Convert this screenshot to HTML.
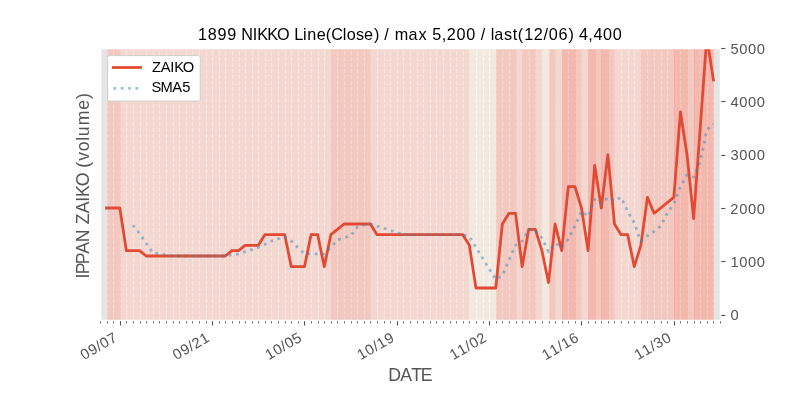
<!DOCTYPE html>
<html lang="en"><head><meta charset="utf-8"><title>1899 NIKKO Line(Close)</title>
<style>html,body{margin:0;padding:0;background:#fff;}body{width:800px;height:400px;overflow:hidden;}svg{display:block;will-change:transform;}text{font-family:"Liberation Sans",sans-serif;}</style></head><body>
<svg width="800" height="400" viewBox="0 0 800 400">
<rect x="0" y="0" width="800" height="400" fill="#ffffff"/>
<defs><clipPath id="ax"><rect x="100" y="48" width="620" height="272"/></clipPath></defs>
<rect x="100" y="48" width="620" height="272" fill="#e5e5e5"/>
<g clip-path="url(#ax)">
<g stroke="#ffffff" stroke-width="1.11" stroke-dasharray="4.11 1.78" fill="none">
<line x1="100.5" y1="320.5" x2="100.5" y2="40"/>
<line x1="107.5" y1="320.5" x2="107.5" y2="40"/>
<line x1="113.5" y1="320.5" x2="113.5" y2="40"/>
<line x1="120.5" y1="320.5" x2="120.5" y2="40"/>
<line x1="126.5" y1="320.5" x2="126.5" y2="40"/>
<line x1="133.5" y1="320.5" x2="133.5" y2="40"/>
<line x1="140.5" y1="320.5" x2="140.5" y2="40"/>
<line x1="146.5" y1="320.5" x2="146.5" y2="40"/>
<line x1="153.5" y1="320.5" x2="153.5" y2="40"/>
<line x1="159.5" y1="320.5" x2="159.5" y2="40"/>
<line x1="166.5" y1="320.5" x2="166.5" y2="40"/>
<line x1="173.5" y1="320.5" x2="173.5" y2="40"/>
<line x1="179.5" y1="320.5" x2="179.5" y2="40"/>
<line x1="186.5" y1="320.5" x2="186.5" y2="40"/>
<line x1="192.5" y1="320.5" x2="192.5" y2="40"/>
<line x1="199.5" y1="320.5" x2="199.5" y2="40"/>
<line x1="206.5" y1="320.5" x2="206.5" y2="40"/>
<line x1="212.5" y1="320.5" x2="212.5" y2="40"/>
<line x1="219.5" y1="320.5" x2="219.5" y2="40"/>
<line x1="225.5" y1="320.5" x2="225.5" y2="40"/>
<line x1="232.5" y1="320.5" x2="232.5" y2="40"/>
<line x1="239.5" y1="320.5" x2="239.5" y2="40"/>
<line x1="245.5" y1="320.5" x2="245.5" y2="40"/>
<line x1="252.5" y1="320.5" x2="252.5" y2="40"/>
<line x1="258.5" y1="320.5" x2="258.5" y2="40"/>
<line x1="265.5" y1="320.5" x2="265.5" y2="40"/>
<line x1="271.5" y1="320.5" x2="271.5" y2="40"/>
<line x1="278.5" y1="320.5" x2="278.5" y2="40"/>
<line x1="285.5" y1="320.5" x2="285.5" y2="40"/>
<line x1="291.5" y1="320.5" x2="291.5" y2="40"/>
<line x1="298.5" y1="320.5" x2="298.5" y2="40"/>
<line x1="304.5" y1="320.5" x2="304.5" y2="40"/>
<line x1="311.5" y1="320.5" x2="311.5" y2="40"/>
<line x1="318.5" y1="320.5" x2="318.5" y2="40"/>
<line x1="324.5" y1="320.5" x2="324.5" y2="40"/>
<line x1="331.5" y1="320.5" x2="331.5" y2="40"/>
<line x1="337.5" y1="320.5" x2="337.5" y2="40"/>
<line x1="344.5" y1="320.5" x2="344.5" y2="40"/>
<line x1="351.5" y1="320.5" x2="351.5" y2="40"/>
<line x1="357.5" y1="320.5" x2="357.5" y2="40"/>
<line x1="364.5" y1="320.5" x2="364.5" y2="40"/>
<line x1="370.5" y1="320.5" x2="370.5" y2="40"/>
<line x1="377.5" y1="320.5" x2="377.5" y2="40"/>
<line x1="384.5" y1="320.5" x2="384.5" y2="40"/>
<line x1="390.5" y1="320.5" x2="390.5" y2="40"/>
<line x1="397.5" y1="320.5" x2="397.5" y2="40"/>
<line x1="403.5" y1="320.5" x2="403.5" y2="40"/>
<line x1="410.5" y1="320.5" x2="410.5" y2="40"/>
<line x1="417.5" y1="320.5" x2="417.5" y2="40"/>
<line x1="423.5" y1="320.5" x2="423.5" y2="40"/>
<line x1="430.5" y1="320.5" x2="430.5" y2="40"/>
<line x1="436.5" y1="320.5" x2="436.5" y2="40"/>
<line x1="443.5" y1="320.5" x2="443.5" y2="40"/>
<line x1="450.5" y1="320.5" x2="450.5" y2="40"/>
<line x1="456.5" y1="320.5" x2="456.5" y2="40"/>
<line x1="463.5" y1="320.5" x2="463.5" y2="40"/>
<line x1="469.5" y1="320.5" x2="469.5" y2="40"/>
<line x1="476.5" y1="320.5" x2="476.5" y2="40"/>
<line x1="483.5" y1="320.5" x2="483.5" y2="40"/>
<line x1="489.5" y1="320.5" x2="489.5" y2="40"/>
<line x1="496.5" y1="320.5" x2="496.5" y2="40"/>
<line x1="502.5" y1="320.5" x2="502.5" y2="40"/>
<line x1="509.5" y1="320.5" x2="509.5" y2="40"/>
<line x1="516.5" y1="320.5" x2="516.5" y2="40"/>
<line x1="522.5" y1="320.5" x2="522.5" y2="40"/>
<line x1="529.5" y1="320.5" x2="529.5" y2="40"/>
<line x1="535.5" y1="320.5" x2="535.5" y2="40"/>
<line x1="542.5" y1="320.5" x2="542.5" y2="40"/>
<line x1="549.5" y1="320.5" x2="549.5" y2="40"/>
<line x1="555.5" y1="320.5" x2="555.5" y2="40"/>
<line x1="562.5" y1="320.5" x2="562.5" y2="40"/>
<line x1="568.5" y1="320.5" x2="568.5" y2="40"/>
<line x1="575.5" y1="320.5" x2="575.5" y2="40"/>
<line x1="581.5" y1="320.5" x2="581.5" y2="40"/>
<line x1="588.5" y1="320.5" x2="588.5" y2="40"/>
<line x1="595.5" y1="320.5" x2="595.5" y2="40"/>
<line x1="601.5" y1="320.5" x2="601.5" y2="40"/>
<line x1="608.5" y1="320.5" x2="608.5" y2="40"/>
<line x1="614.5" y1="320.5" x2="614.5" y2="40"/>
<line x1="621.5" y1="320.5" x2="621.5" y2="40"/>
<line x1="628.5" y1="320.5" x2="628.5" y2="40"/>
<line x1="634.5" y1="320.5" x2="634.5" y2="40"/>
<line x1="641.5" y1="320.5" x2="641.5" y2="40"/>
<line x1="647.5" y1="320.5" x2="647.5" y2="40"/>
<line x1="654.5" y1="320.5" x2="654.5" y2="40"/>
<line x1="661.5" y1="320.5" x2="661.5" y2="40"/>
<line x1="667.5" y1="320.5" x2="667.5" y2="40"/>
<line x1="674.5" y1="320.5" x2="674.5" y2="40"/>
<line x1="680.5" y1="320.5" x2="680.5" y2="40"/>
<line x1="687.5" y1="320.5" x2="687.5" y2="40"/>
<line x1="694.5" y1="320.5" x2="694.5" y2="40"/>
<line x1="700.5" y1="320.5" x2="700.5" y2="40"/>
<line x1="707.5" y1="320.5" x2="707.5" y2="40"/>
<line x1="713.5" y1="320.5" x2="713.5" y2="40"/>
<line x1="720.5" y1="320.5" x2="720.5" y2="40"/>
</g>
<g fill-opacity="0.50" stroke-opacity="0.50" stroke-width="0.69">
<rect x="107.5" y="30" width="13.0" height="310" fill="#fdad9d" stroke="#fdad9d"/>
<rect x="120.5" y="30" width="211.0" height="310" fill="#ffcbbd" stroke="#ffcbbd"/>
<rect x="331.5" y="30" width="39.0" height="310" fill="#fdad9d" stroke="#fdad9d"/>
<rect x="370.5" y="30" width="99.0" height="310" fill="#ffcbbd" stroke="#ffcbbd"/>
<rect x="469.5" y="30" width="27.0" height="310" fill="#ffeddd" stroke="#ffeddd"/>
<rect x="496.5" y="30" width="20.0" height="310" fill="#fdad9d" stroke="#fdad9d"/>
<rect x="516.5" y="30" width="6.0" height="310" fill="#ffcbbd" stroke="#ffcbbd"/>
<rect x="522.5" y="30" width="13.0" height="310" fill="#fdad9d" stroke="#fdad9d"/>
<rect x="535.5" y="30" width="7.0" height="310" fill="#ffcbbd" stroke="#ffcbbd"/>
<rect x="542.5" y="30" width="7.0" height="310" fill="#ffeddd" stroke="#ffeddd"/>
<rect x="549.5" y="30" width="6.0" height="310" fill="#fdad9d" stroke="#fdad9d"/>
<rect x="555.5" y="30" width="7.0" height="310" fill="#ffcbbd" stroke="#ffcbbd"/>
<rect x="562.5" y="30" width="13.0" height="310" fill="#ff8d7d" stroke="#ff8d7d"/>
<rect x="575.5" y="30" width="6.0" height="310" fill="#fdad9d" stroke="#fdad9d"/>
<rect x="581.5" y="30" width="7.0" height="310" fill="#ffcbbd" stroke="#ffcbbd"/>
<rect x="588.5" y="30" width="7.0" height="310" fill="#ff8d7d" stroke="#ff8d7d"/>
<rect x="595.5" y="30" width="6.0" height="310" fill="#fdad9d" stroke="#fdad9d"/>
<rect x="601.5" y="30" width="7.0" height="310" fill="#ff8d7d" stroke="#ff8d7d"/>
<rect x="608.5" y="30" width="6.0" height="310" fill="#fdad9d" stroke="#fdad9d"/>
<rect x="614.5" y="30" width="27.0" height="310" fill="#ffcbbd" stroke="#ffcbbd"/>
<rect x="641.5" y="30" width="33.0" height="310" fill="#fdad9d" stroke="#fdad9d"/>
<rect x="674.5" y="30" width="13.0" height="310" fill="#ff8d7d" stroke="#ff8d7d"/>
<rect x="687.5" y="30" width="7.0" height="310" fill="#fdad9d" stroke="#fdad9d"/>
<rect x="694.5" y="30" width="19.0" height="310" fill="#ff8d7d" stroke="#ff8d7d"/>
</g>
<polyline points="106.60,208.00 113.19,208.00 119.79,208.00 126.38,250.67 132.98,250.67 139.57,250.67 146.17,256.00 152.77,256.00 159.36,256.00 165.96,256.00 172.55,256.00 179.15,256.00 185.74,256.00 192.34,256.00 198.94,256.00 205.53,256.00 212.13,256.00 218.72,256.00 225.32,256.00 231.91,250.67 238.51,250.67 245.11,245.33 251.70,245.33 258.30,245.33 264.89,234.67 271.49,234.67 278.09,234.67 284.68,234.67 291.28,266.67 297.87,266.67 304.47,266.67 311.06,234.67 317.66,234.67 324.26,266.67 330.85,234.67 337.45,229.33 344.04,224.00 350.64,224.00 357.23,224.00 363.83,224.00 370.43,224.00 377.02,234.67 383.62,234.67 390.21,234.67 396.81,234.67 403.40,234.67 410.00,234.67 416.60,234.67 423.19,234.67 429.79,234.67 436.38,234.67 442.98,234.67 449.57,234.67 456.17,234.67 462.77,234.67 469.36,245.33 475.96,288.00 482.55,288.00 489.15,288.00 495.74,288.00 502.34,224.00 508.94,213.33 515.53,213.33 522.13,266.67 528.72,229.33 535.32,229.33 541.91,250.67 548.51,282.67 555.11,224.00 561.70,250.67 568.30,186.67 574.89,186.67 581.49,208.00 588.09,250.67 594.68,165.33 601.28,208.00 607.87,154.67 614.47,224.00 621.06,234.67 627.66,234.67 634.26,266.67 640.85,245.33 647.45,197.33 654.04,213.33 660.64,208.00 667.23,202.67 673.83,197.33 680.43,112.00 687.02,154.67 693.62,218.67 700.21,128.00 706.81,37.33 713.40,80.00" fill="none" stroke="#e24a33" stroke-width="2.78" stroke-linejoin="round" stroke-linecap="square"/>
<polyline points="132.98,225.07 139.57,233.60 146.17,243.20 152.77,252.80 159.36,253.87 165.96,254.93 172.55,256.00 179.15,256.00 185.74,256.00 192.34,256.00 198.94,256.00 205.53,256.00 212.13,256.00 218.72,256.00 225.32,256.00 231.91,254.93 238.51,253.87 245.11,251.73 251.70,249.60 258.30,247.47 264.89,244.27 271.49,241.07 278.09,238.93 284.68,236.80 291.28,241.07 297.87,247.47 304.47,253.87 311.06,253.87 317.66,253.87 324.26,253.87 330.85,247.47 337.45,240.00 344.04,237.87 350.64,235.73 357.23,227.20 363.83,225.07 370.43,224.00 377.02,226.13 383.62,228.27 390.21,230.40 396.81,232.53 403.40,234.67 410.00,234.67 416.60,234.67 423.19,234.67 429.79,234.67 436.38,234.67 442.98,234.67 449.57,234.67 456.17,234.67 462.77,234.67 469.36,236.80 475.96,247.47 482.55,258.13 489.15,268.80 495.74,279.47 502.34,275.20 508.94,260.27 515.53,245.33 522.13,241.07 528.72,229.33 535.32,230.40 541.91,237.87 548.51,251.73 555.11,243.20 561.70,247.47 568.30,238.93 574.89,226.13 581.49,211.20 588.09,216.53 594.68,199.47 601.28,203.73 607.87,197.33 614.47,200.53 621.06,197.33 627.66,211.20 634.26,222.93 640.85,241.07 647.45,235.73 654.04,231.47 660.64,226.13 667.23,213.33 673.83,203.73 680.43,186.67 687.02,174.93 693.62,177.07 700.21,162.13 706.81,130.13 713.40,123.73" fill="none" stroke="#348abd" stroke-opacity="0.5" stroke-width="2.78" stroke-dasharray="2.78 4.58" stroke-linejoin="round"/>
</g>
<path d="M99.8 47.8H720.2V49.2H101.2V320.2H99.8Z" fill="#ffffff"/>
<path d="M719.8 49V320H101V318.8H719.8Z" fill="#ffffff" fill-opacity="0.0"/>
<rect x="719.8" y="48" width="0.4" height="272.2" fill="#ffffff"/><rect x="100" y="319.8" width="620" height="0.4" fill="#ffffff"/>
<g stroke="#555555" fill="none">
<line x1="100.5" y1="321.2" x2="100.5" y2="323.5" stroke-width="0.83"/>
<line x1="107.5" y1="321.2" x2="107.5" y2="323.5" stroke-width="0.83"/>
<line x1="113.5" y1="321.2" x2="113.5" y2="323.5" stroke-width="0.83"/>
<line x1="120.5" y1="321.2" x2="120.5" y2="325.5" stroke-width="1.11"/>
<line x1="126.5" y1="321.2" x2="126.5" y2="323.5" stroke-width="0.83"/>
<line x1="133.5" y1="321.2" x2="133.5" y2="323.5" stroke-width="0.83"/>
<line x1="140.5" y1="321.2" x2="140.5" y2="323.5" stroke-width="0.83"/>
<line x1="146.5" y1="321.2" x2="146.5" y2="323.5" stroke-width="0.83"/>
<line x1="153.5" y1="321.2" x2="153.5" y2="323.5" stroke-width="0.83"/>
<line x1="159.5" y1="321.2" x2="159.5" y2="323.5" stroke-width="0.83"/>
<line x1="166.5" y1="321.2" x2="166.5" y2="323.5" stroke-width="0.83"/>
<line x1="173.5" y1="321.2" x2="173.5" y2="323.5" stroke-width="0.83"/>
<line x1="179.5" y1="321.2" x2="179.5" y2="323.5" stroke-width="0.83"/>
<line x1="186.5" y1="321.2" x2="186.5" y2="323.5" stroke-width="0.83"/>
<line x1="192.5" y1="321.2" x2="192.5" y2="323.5" stroke-width="0.83"/>
<line x1="199.5" y1="321.2" x2="199.5" y2="323.5" stroke-width="0.83"/>
<line x1="206.5" y1="321.2" x2="206.5" y2="323.5" stroke-width="0.83"/>
<line x1="212.5" y1="321.2" x2="212.5" y2="325.5" stroke-width="1.11"/>
<line x1="219.5" y1="321.2" x2="219.5" y2="323.5" stroke-width="0.83"/>
<line x1="225.5" y1="321.2" x2="225.5" y2="323.5" stroke-width="0.83"/>
<line x1="232.5" y1="321.2" x2="232.5" y2="323.5" stroke-width="0.83"/>
<line x1="239.5" y1="321.2" x2="239.5" y2="323.5" stroke-width="0.83"/>
<line x1="245.5" y1="321.2" x2="245.5" y2="323.5" stroke-width="0.83"/>
<line x1="252.5" y1="321.2" x2="252.5" y2="323.5" stroke-width="0.83"/>
<line x1="258.5" y1="321.2" x2="258.5" y2="323.5" stroke-width="0.83"/>
<line x1="265.5" y1="321.2" x2="265.5" y2="323.5" stroke-width="0.83"/>
<line x1="271.5" y1="321.2" x2="271.5" y2="323.5" stroke-width="0.83"/>
<line x1="278.5" y1="321.2" x2="278.5" y2="323.5" stroke-width="0.83"/>
<line x1="285.5" y1="321.2" x2="285.5" y2="323.5" stroke-width="0.83"/>
<line x1="291.5" y1="321.2" x2="291.5" y2="323.5" stroke-width="0.83"/>
<line x1="298.5" y1="321.2" x2="298.5" y2="323.5" stroke-width="0.83"/>
<line x1="304.5" y1="321.2" x2="304.5" y2="325.5" stroke-width="1.11"/>
<line x1="311.5" y1="321.2" x2="311.5" y2="323.5" stroke-width="0.83"/>
<line x1="318.5" y1="321.2" x2="318.5" y2="323.5" stroke-width="0.83"/>
<line x1="324.5" y1="321.2" x2="324.5" y2="323.5" stroke-width="0.83"/>
<line x1="331.5" y1="321.2" x2="331.5" y2="323.5" stroke-width="0.83"/>
<line x1="337.5" y1="321.2" x2="337.5" y2="323.5" stroke-width="0.83"/>
<line x1="344.5" y1="321.2" x2="344.5" y2="323.5" stroke-width="0.83"/>
<line x1="351.5" y1="321.2" x2="351.5" y2="323.5" stroke-width="0.83"/>
<line x1="357.5" y1="321.2" x2="357.5" y2="323.5" stroke-width="0.83"/>
<line x1="364.5" y1="321.2" x2="364.5" y2="323.5" stroke-width="0.83"/>
<line x1="370.5" y1="321.2" x2="370.5" y2="323.5" stroke-width="0.83"/>
<line x1="377.5" y1="321.2" x2="377.5" y2="323.5" stroke-width="0.83"/>
<line x1="384.5" y1="321.2" x2="384.5" y2="323.5" stroke-width="0.83"/>
<line x1="390.5" y1="321.2" x2="390.5" y2="323.5" stroke-width="0.83"/>
<line x1="397.5" y1="321.2" x2="397.5" y2="325.5" stroke-width="1.11"/>
<line x1="403.5" y1="321.2" x2="403.5" y2="323.5" stroke-width="0.83"/>
<line x1="410.5" y1="321.2" x2="410.5" y2="323.5" stroke-width="0.83"/>
<line x1="417.5" y1="321.2" x2="417.5" y2="323.5" stroke-width="0.83"/>
<line x1="423.5" y1="321.2" x2="423.5" y2="323.5" stroke-width="0.83"/>
<line x1="430.5" y1="321.2" x2="430.5" y2="323.5" stroke-width="0.83"/>
<line x1="436.5" y1="321.2" x2="436.5" y2="323.5" stroke-width="0.83"/>
<line x1="443.5" y1="321.2" x2="443.5" y2="323.5" stroke-width="0.83"/>
<line x1="450.5" y1="321.2" x2="450.5" y2="323.5" stroke-width="0.83"/>
<line x1="456.5" y1="321.2" x2="456.5" y2="323.5" stroke-width="0.83"/>
<line x1="463.5" y1="321.2" x2="463.5" y2="323.5" stroke-width="0.83"/>
<line x1="469.5" y1="321.2" x2="469.5" y2="323.5" stroke-width="0.83"/>
<line x1="476.5" y1="321.2" x2="476.5" y2="323.5" stroke-width="0.83"/>
<line x1="483.5" y1="321.2" x2="483.5" y2="323.5" stroke-width="0.83"/>
<line x1="489.5" y1="321.2" x2="489.5" y2="325.5" stroke-width="1.11"/>
<line x1="496.5" y1="321.2" x2="496.5" y2="323.5" stroke-width="0.83"/>
<line x1="502.5" y1="321.2" x2="502.5" y2="323.5" stroke-width="0.83"/>
<line x1="509.5" y1="321.2" x2="509.5" y2="323.5" stroke-width="0.83"/>
<line x1="516.5" y1="321.2" x2="516.5" y2="323.5" stroke-width="0.83"/>
<line x1="522.5" y1="321.2" x2="522.5" y2="323.5" stroke-width="0.83"/>
<line x1="529.5" y1="321.2" x2="529.5" y2="323.5" stroke-width="0.83"/>
<line x1="535.5" y1="321.2" x2="535.5" y2="323.5" stroke-width="0.83"/>
<line x1="542.5" y1="321.2" x2="542.5" y2="323.5" stroke-width="0.83"/>
<line x1="549.5" y1="321.2" x2="549.5" y2="323.5" stroke-width="0.83"/>
<line x1="555.5" y1="321.2" x2="555.5" y2="323.5" stroke-width="0.83"/>
<line x1="562.5" y1="321.2" x2="562.5" y2="323.5" stroke-width="0.83"/>
<line x1="568.5" y1="321.2" x2="568.5" y2="323.5" stroke-width="0.83"/>
<line x1="575.5" y1="321.2" x2="575.5" y2="323.5" stroke-width="0.83"/>
<line x1="581.5" y1="321.2" x2="581.5" y2="325.5" stroke-width="1.11"/>
<line x1="588.5" y1="321.2" x2="588.5" y2="323.5" stroke-width="0.83"/>
<line x1="595.5" y1="321.2" x2="595.5" y2="323.5" stroke-width="0.83"/>
<line x1="601.5" y1="321.2" x2="601.5" y2="323.5" stroke-width="0.83"/>
<line x1="608.5" y1="321.2" x2="608.5" y2="323.5" stroke-width="0.83"/>
<line x1="614.5" y1="321.2" x2="614.5" y2="323.5" stroke-width="0.83"/>
<line x1="621.5" y1="321.2" x2="621.5" y2="323.5" stroke-width="0.83"/>
<line x1="628.5" y1="321.2" x2="628.5" y2="323.5" stroke-width="0.83"/>
<line x1="634.5" y1="321.2" x2="634.5" y2="323.5" stroke-width="0.83"/>
<line x1="641.5" y1="321.2" x2="641.5" y2="323.5" stroke-width="0.83"/>
<line x1="647.5" y1="321.2" x2="647.5" y2="323.5" stroke-width="0.83"/>
<line x1="654.5" y1="321.2" x2="654.5" y2="323.5" stroke-width="0.83"/>
<line x1="661.5" y1="321.2" x2="661.5" y2="323.5" stroke-width="0.83"/>
<line x1="667.5" y1="321.2" x2="667.5" y2="323.5" stroke-width="0.83"/>
<line x1="674.5" y1="321.2" x2="674.5" y2="325.5" stroke-width="1.11"/>
<line x1="680.5" y1="321.2" x2="680.5" y2="323.5" stroke-width="0.83"/>
<line x1="687.5" y1="321.2" x2="687.5" y2="323.5" stroke-width="0.83"/>
<line x1="694.5" y1="321.2" x2="694.5" y2="323.5" stroke-width="0.83"/>
<line x1="700.5" y1="321.2" x2="700.5" y2="323.5" stroke-width="0.83"/>
<line x1="707.5" y1="321.2" x2="707.5" y2="323.5" stroke-width="0.83"/>
<line x1="713.5" y1="321.2" x2="713.5" y2="323.5" stroke-width="0.83"/>
<line x1="720.5" y1="321.2" x2="720.5" y2="323.5" stroke-width="0.83"/>
<line x1="721.2" y1="315.5" x2="725.5" y2="315.5" stroke-width="1.11"/>
<line x1="721.2" y1="261.5" x2="725.5" y2="261.5" stroke-width="1.11"/>
<line x1="721.2" y1="208.5" x2="725.5" y2="208.5" stroke-width="1.11"/>
<line x1="721.2" y1="155.5" x2="725.5" y2="155.5" stroke-width="1.11"/>
<line x1="721.2" y1="101.5" x2="725.5" y2="101.5" stroke-width="1.11"/>
<line x1="721.2" y1="48.5" x2="725.5" y2="48.5" stroke-width="1.11"/>
</g>
<text transform="translate(197.85,39.67)" x="0.26 10.03 19.67 29.36 38.76 43.44 54.99 59.41 69.40 79.14 91.43 96.32 105.08 109.34 118.85 127.87 133.33 144.90 148.97 158.16 166.28 176.12 181.38 186.53 191.35 196.90 210.61 220.78 229.37 234.49 243.91 248.88 258.77 268.46 277.81 282.97 287.78 292.94 296.44 306.21 314.81 319.96 326.29 335.86 345.73 350.88 360.57 370.60 375.86 381.04 390.41 395.57 405.26 414.95" y="0" font-size="16.19px" fill="#000000">1899 NIKKO Line(Close) / max 5,200 / last(12/06) 4,400</text>
<text transform="translate(388.31,381.46)" x="-0.17 12.00 22.90 32.33" y="0" font-size="17.66px" fill="#555555">DATE</text>
<text transform="translate(89.24,278.41) rotate(-90)" x="-0.01 4.28 14.29 24.68 36.08 48.67 54.23 65.10 76.67 81.48 92.11 105.50 110.63 117.75 127.25 137.58 142.16 153.14 168.77 179.49" y="0" font-size="17.66px" fill="#555555">IPPAN ZAIKO (volume)</text>
<text transform="translate(83.86,360.32) rotate(-30)" x="0.29 9.02 17.83 22.49 31.24" y="0" font-size="14.72px" fill="#555555">09/07</text>
<text transform="translate(176.09,360.39) rotate(-30)" x="0.31 9.07 17.89 22.39 31.30" y="0" font-size="14.72px" fill="#555555">09/21</text>
<text transform="translate(268.54,360.32) rotate(-30)" x="0.22 9.07 17.83 22.49 31.21" y="0" font-size="14.72px" fill="#555555">10/05</text>
<text transform="translate(360.67,360.45) rotate(-30)" x="0.24 9.15 17.96 22.58 31.44" y="0" font-size="14.72px" fill="#555555">10/19</text>
<text transform="translate(453.12,360.39) rotate(-30)" x="0.23 9.03 17.89 22.57 31.20" y="0" font-size="14.72px" fill="#555555">11/02</text>
<text transform="translate(545.24,360.51) rotate(-30)" x="0.26 9.12 18.02 22.67 31.60" y="0" font-size="14.72px" fill="#555555">11/16</text>
<text transform="translate(637.80,360.39) rotate(-30)" x="0.23 9.03 17.89 22.59 31.38" y="0" font-size="14.72px" fill="#555555">11/30</text>
<text transform="translate(730.22,320.17)" x="0.28" y="0" font-size="14.72px" fill="#555555">0</text>
<text transform="translate(730.22,266.83)" x="0.22 9.08 17.86 26.64" y="0" font-size="14.72px" fill="#555555">1000</text>
<text transform="translate(730.22,213.50)" x="0.10 9.03 17.78 26.53" y="0" font-size="14.72px" fill="#555555">2000</text>
<text transform="translate(730.22,160.17)" x="0.30 9.03 17.78 26.53" y="0" font-size="14.72px" fill="#555555">3000</text>
<text transform="translate(730.22,106.83)" x="0.28 9.03 17.78 26.53" y="0" font-size="14.72px" fill="#555555">4000</text>
<text transform="translate(730.22,53.50)" x="0.23 9.03 17.78 26.53" y="0" font-size="14.72px" fill="#555555">5000</text>
<rect x="107.6" y="55.6" width="92.6" height="45.5" rx="2" ry="2" fill="#ffffff" stroke="#cccccc" stroke-width="0.9"/>
<line x1="113.3" y1="67.5" x2="140.55" y2="67.5" stroke="#e24a33" stroke-width="2.78" stroke-linecap="square"/>
<line x1="113.4" y1="88.4" x2="141.2" y2="88.4" stroke="#348abd" stroke-opacity="0.5" stroke-width="2.78" stroke-dasharray="2.78 4.58"/>
<text transform="translate(151.89,71.50)" x="0.12 8.95 18.43 22.26 30.89" y="0" font-size="14.72px" fill="#000000">ZAIKO</text>
<text transform="translate(151.89,92.44)" x="-0.46 8.55 20.42 30.27" y="0" font-size="14.72px" fill="#000000">SMA5</text>
</svg></body></html>
